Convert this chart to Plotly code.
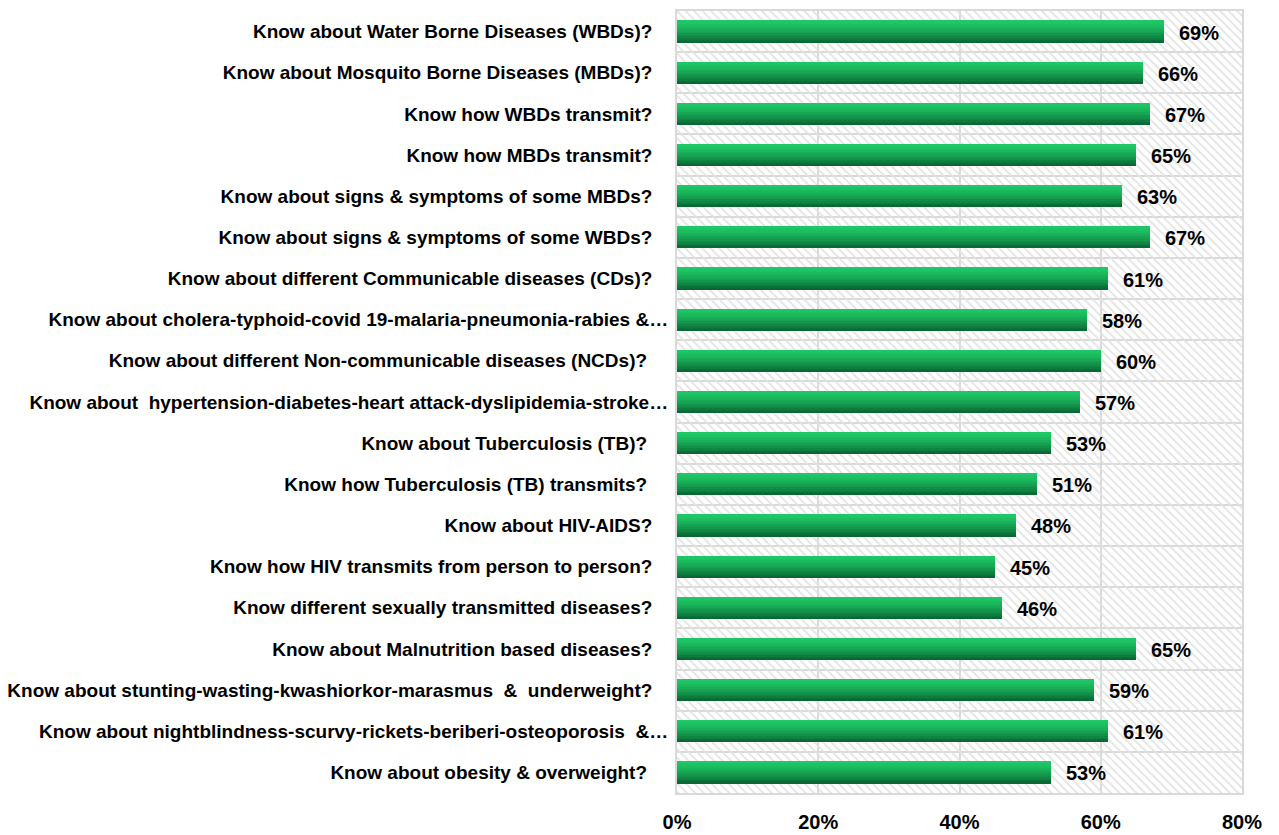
import plotly.graph_objects as go

# ---------------- data ----------------
categories = [
    "Know about Water Borne Diseases (WBDs)?",
    "Know about Mosquito Borne Diseases (MBDs)?",
    "Know how WBDs transmit?",
    "Know how MBDs transmit?",
    "Know about signs & symptoms of some MBDs?",
    "Know about signs & symptoms of some WBDs?",
    "Know about different Communicable diseases (CDs)?",
    "Know about cholera-typhoid-covid 19-malaria-pneumonia-rabies &…",
    "Know about different Non-communicable diseases (NCDs)?",
    "Know about  hypertension-diabetes-heart attack-dyslipidemia-stroke…",
    "Know about Tuberculosis (TB)?",
    "Know how Tuberculosis (TB) transmits?",
    "Know about HIV-AIDS?",
    "Know how HIV transmits from person to person?",
    "Know different sexually transmitted diseases?",
    "Know about Malnutrition based diseases?",
    "Know about stunting-wasting-kwashiorkor-marasmus  &  underweight?",
    "Know about nightblindness-scurvy-rickets-beriberi-osteoporosis  &…",
    "Know about obesity & overweight?",
]
values = [69, 66, 67, 65, 63, 67, 61, 58, 60, 57, 53, 51, 48, 45, 46, 65, 59, 61, 53]
x_ticks = [0, 20, 40, 60, 80]
x_tick_labels = ["0%", "20%", "40%", "60%", "80%"]

# ---------------- style ----------------
FONT = "Liberation Sans, Arial, sans-serif"
GRID = "#d9d9d9"
BAR_H = 0.54
N_BANDS = 14
TOP_RGB = (30, 200, 102)
BOT_RGB = (10, 104, 52)
# trailing padding (in no-break spaces) as in the source layout
label_pad = [3, 3, 3, 3, 3, 3, 3, 0, 4, 0, 4, 4, 3, 3, 3, 3, 3, 0, 4]

n = len(categories)
pos = list(range(n))
XMAX = x_ticks[-1]


def lerp(a, b, t):
    return tuple(round(a[i] + (b[i] - a[i]) * t) for i in range(3))


fig = go.Figure()

# hatched plot background (transparent between hatch strokes)
fig.add_trace(go.Bar(
    x=[XMAX] * n, y=pos, orientation="h", width=1.0,
    marker=dict(color="rgba(0,0,0,0)", line=dict(width=0),
                pattern=dict(shape="\\", size=6, solidity=0.3,
                             fgcolor="#e2e2e2", bgcolor="rgba(255,255,255,0)",
                             fillmode="replace")),
    hoverinfo="skip", showlegend=False,
))

# gradient bars built from stacked bands
for k in range(N_BANDS):
    t = (k / (N_BANDS - 1)) ** 1.4
    c = lerp(TOP_RGB, BOT_RGB, t)
    off = -BAR_H / 2 + k * BAR_H / N_BANDS
    w = BAR_H - k * BAR_H / N_BANDS
    fig.add_trace(go.Bar(
        x=values, y=pos, orientation="h",
        width=[w] * n, offset=[off] * n,
        marker=dict(color=f"rgb{c}", line=dict(width=0)),
        hoverinfo="skip", showlegend=False,
    ))

# value labels
for v, p in zip(values, pos):
    fig.add_annotation(
        x=v, y=p, text=f"{v}%", showarrow=False, xanchor="left",
        xshift=13, yshift=-1,
        font=dict(family=FONT, size=20, color="#000000", weight="bold"),
    )

ticktext = [c.replace("  ", "\u00a0\u00a0") + "\u00a0" * pd for c, pd in zip(categories, label_pad)]

fig.update_layout(
    width=1279, height=835,
    margin=dict(l=677, r=37, t=11, b=42, pad=0),
    paper_bgcolor="white", plot_bgcolor="white",
    barmode="overlay", bargap=0,
    font=dict(family=FONT, color="#000000"),
    xaxis=dict(
        range=[0, XMAX], tickvals=x_ticks, ticktext=x_tick_labels,
        showgrid=True, gridcolor=GRID, gridwidth=2,
        zeroline=False, showline=True, linecolor=GRID, linewidth=2, mirror=True,
        ticks="", ticklabelstandoff=10, automargin=False,
        tickfont=dict(family=FONT, size=20, color="#000000", weight="bold"),
        fixedrange=True,
    ),
    yaxis=dict(
        range=[n - 0.5, -0.5], tickvals=pos, ticktext=ticktext,
        showgrid=False, zeroline=False,
        showline=True, linecolor=GRID, linewidth=2, mirror=True,
        ticks="", ticklabelstandoff=3, automargin=False,
        minor=dict(tick0=0.5, dtick=1, showgrid=True, gridcolor=GRID, gridwidth=2, ticks=""),
        tickfont=dict(family=FONT, size=19, color="#000000", weight="bold"),
        fixedrange=True,
    ),
)

fig.write_html("out.html", config={"displayModeBar": False})
